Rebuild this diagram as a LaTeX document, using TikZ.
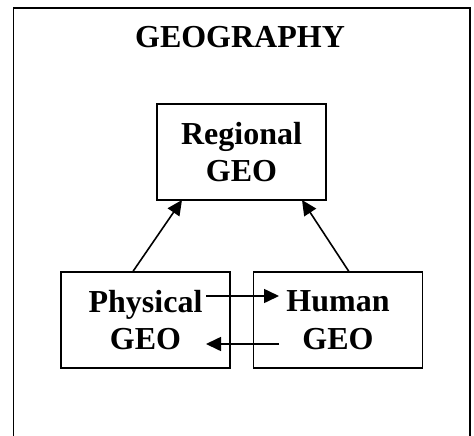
\documentclass[tikz,border=0pt]{standalone}
\usepackage{fontspec}
\setmainfont{Liberation Serif}
\usetikzlibrary{arrows.meta}
\begin{document}
\begin{tikzpicture}[x=1pt,y=-1pt,
  geobox/.style={draw,line width=1.7pt,minimum width=169pt,minimum height=96pt,inner sep=0pt,
    align=center,font=\fontsize{32}{37.7}\selectfont\bfseries},
  link/.style={line width=1.6pt,-{Triangle[length=15pt,width=14pt]}}]
\useasboundingbox (0,0) rectangle (474,436);
\draw[line width=1.9pt] (13.5,440) -- (13.5,8) -- (470,8) -- (470,440);
\node[font=\fontsize{32}{37.7}\selectfont\bfseries] (title) at (240,37) {GEOGRAPHY};
\node[geobox] (reg) at (241.5,152) {Regional\\GEO};
\node[geobox] (phy) at (145.5,320) {Physical\\GEO};
\node[geobox] (hum) at (338,320) {Human\\GEO};
\coordinate (p1) at (206,296);
\coordinate (h1) at (279,296);
\coordinate (h2) at (279,344);
\coordinate (p2) at (206,344);
\draw[link] (phy.north west) ++(73,0) coordinate (pa) -- (182,200) coordinate (ra);
\draw[link] (hum.north west) ++(96,0) coordinate (hb) -- (302,200) coordinate (rb);
\draw[link] (p1) -- (h1);
\draw[link] (h2) -- (p2);
\end{tikzpicture}
\end{document}
